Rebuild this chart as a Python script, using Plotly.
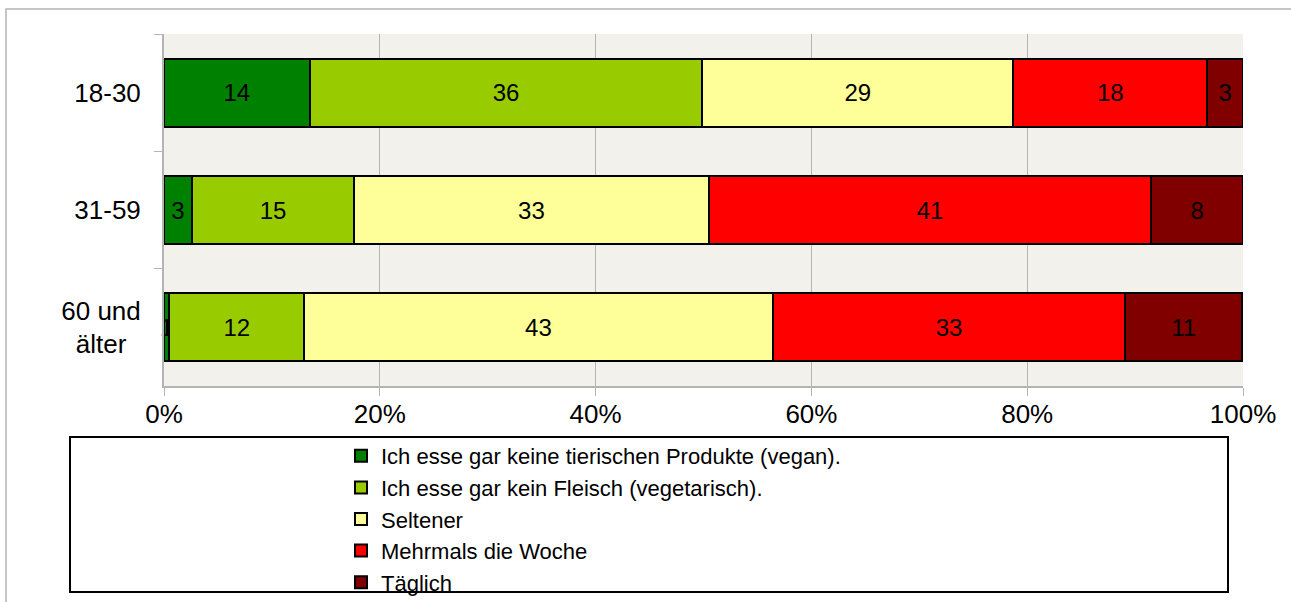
import plotly.graph_objects as go

# Data
age_groups = ["18-30", "31-59", "60 und<br>älter\u00a0\u00a0"]
series_names = [
    "Ich esse gar keine tierischen Produkte (vegan).",
    "Ich esse gar kein Fleisch (vegetarisch).",
    "Seltener",
    "Mehrmals die Woche",
    "Täglich",
]
# bar lengths (percent)
vegan = [13.5, 2.6, 0.5]
vegetarisch = [36.4, 15.0, 12.5]
seltener = [28.8, 32.9, 43.4]
mehrmals = [18.0, 41.0, 32.7]
taeglich = [3.3, 8.5, 10.8]
# printed labels
vegan_lbl = [14, 3, 1]
vegetarisch_lbl = [36, 15, 12]
seltener_lbl = [29, 33, 43]
mehrmals_lbl = [18, 41, 33]
taeglich_lbl = [3, 8, 11]
x_tick_vals = [0, 20, 40, 60, 80, 100]
x_tick_text = ["0%", "20%", "40%", "60%", "80%", "100%"]

colors = ["#008000", "#99CC00", "#FFFF99", "#FF0000", "#800000"]
values = [vegan, vegetarisch, seltener, mehrmals, taeglich]
labels = [vegan_lbl, vegetarisch_lbl, seltener_lbl, mehrmals_lbl, taeglich_lbl]

FONT = "Liberation Sans, Arial, sans-serif"
FS = 26
LFS = 22

fig = go.Figure()
for name, vals, lbls, col in zip(series_names, values, labels, colors):
    fig.add_trace(go.Bar(
        y=age_groups, x=vals, name=name, orientation="h",
        marker=dict(color=col, line=dict(color="black", width=2)),
        text=[str(v) for v in lbls], textposition="inside",
        insidetextanchor="middle", textangle=0, constraintext="none",
        cliponaxis=False,
        textfont=dict(color="black", size=FS - 2, family=FONT),
        hoverinfo="x+y+name",
    ))

L, R, T, B = 164, 1243, 34, 386
W, H = 1291, 602
pw, ph = R - L, B - T

def px(x):
    return (x - L) / pw

def py(y):
    return (B - y) / ph

fig.update_layout(
    width=W, height=H,
    margin=dict(l=L, r=W - R, t=T, b=H - B, pad=0, autoexpand=False),
    barmode="stack", bargap=0.42,
    paper_bgcolor="white", plot_bgcolor="#F2F1EB",
    font=dict(family=FONT, size=FS, color="black"),
    showlegend=True,
    legend=dict(
        x=px(341), y=py(435), xanchor="left", yanchor="top",
        traceorder="normal", bgcolor="rgba(0,0,0,0)", borderwidth=0,
        font=dict(size=LFS, family=FONT, color="black"),
        tracegroupgap=0,
    ),
    xaxis=dict(
        range=[0, 100], tickvals=x_tick_vals, ticktext=x_tick_text,
        showgrid=True, gridcolor="#B4B4B4", gridwidth=1,
        ticks="outside", ticklen=8, tickcolor="#B4B4B4",
        showline=True, linecolor="#B4B4B4", linewidth=2,
        zeroline=False, ticklabelstandoff=-4,
        tickfont=dict(size=FS),
    ),
    yaxis=dict(
        autorange="reversed", type="category",
        showgrid=False, tickson="boundaries",
        ticks="outside", ticklen=8, tickcolor="#B4B4B4",
        showline=True, linecolor="#B4B4B4", linewidth=2,
        ticklabelstandoff=16, tickfont=dict(size=FS),
    ),
    shapes=[
        # outer chart border
        dict(type="rect", xref="paper", yref="paper",
             x0=px(6), x1=px(1300), y0=py(620), y1=py(9),
             line=dict(color="#B4B4B4", width=1.5), layer="below"),
        # legend box
        dict(type="rect", xref="paper", yref="paper",
             x0=px(70), x1=px(1228), y0=py(592), y1=py(437),
             line=dict(color="black", width=2), layer="above"),
    ],
)

fig.write_html("out.html", config={"displayModeBar": False},
               post_script="document.body.style.margin='0';")
